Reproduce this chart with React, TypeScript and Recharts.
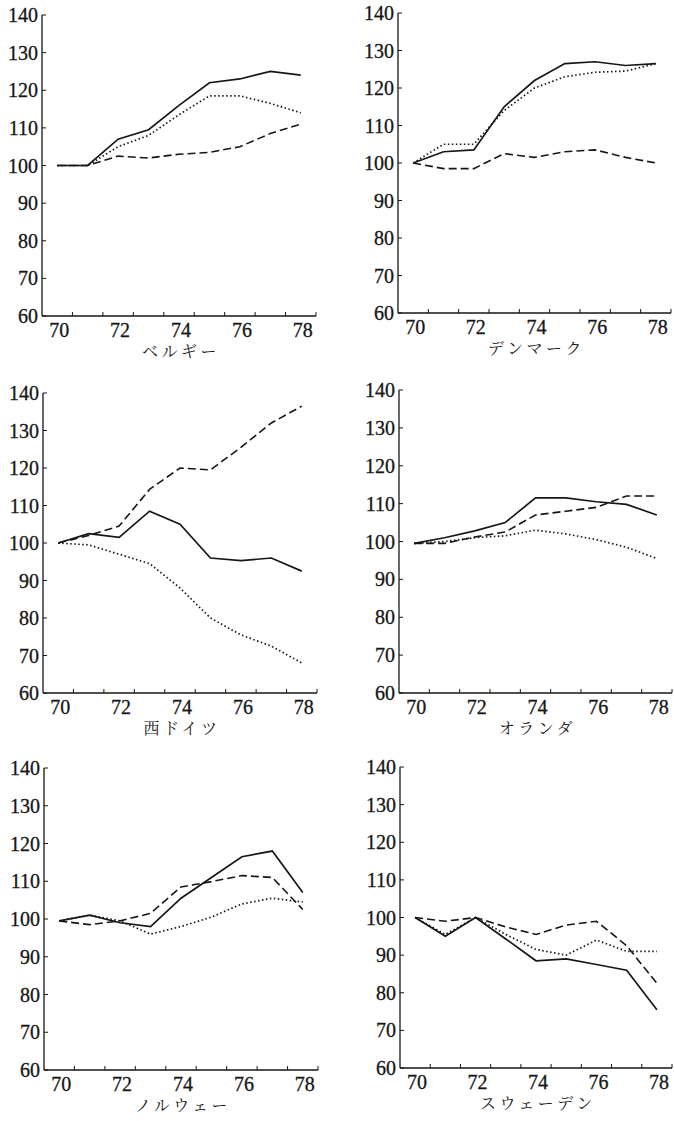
import React from "react";
import { LineChart, Line, XAxis, YAxis } from "recharts";

// 1970–1978, index 70 = 100
const years = [70, 71, 72, 73, 74, 75, 76, 77, 78];
const yearLabels = [70, 72, 74, 76, 78];
const yearMarks = [70.5, 71.5, 72.5, 73.5, 74.5, 75.5, 76.5, 77.5, 78.5];
const yTicks = [60, 70, 80, 90, 100, 110, 120, 130, 140];

const countryNames = ["ベルギー", "デンマーク", "西ドイツ", "オランダ", "ノルウェー", "スウェーデン"];

// solid / dashed / dotted lines per country
const belgiumSolid = [100, 100, 107, 109.5, 116, 122, 123, 125, 124];
const belgiumDashed = [100, 100, 102.5, 102, 103, 103.5, 105, 108.5, 111];
const belgiumDotted = [100, 100, 105, 108, 113.5, 118.5, 118.5, 116.5, 114];

const denmarkSolid = [100, 103, 103.5, 115, 122, 126.5, 127, 126, 126.5];
const denmarkDashed = [100, 98.5, 98.5, 102.5, 101.5, 103, 103.5, 101.5, 100];
const denmarkDotted = [100, 105, 105, 114, 120, 123, 124.2, 124.5, 126.5];

const germanySolid = [100, 102.5, 101.5, 108.5, 105, 96, 95.3, 96, 92.5];
const germanyDashed = [100, 102, 104.5, 114.3, 120, 119.5, 125.5, 132, 136.5];
const germanyDotted = [100, 99.5, 97, 94.5, 88, 80, 75.5, 72.5, 68];

const netherlandsSolid = [99.5, 101, 102.8, 105, 111.5, 111.5, 110.5, 109.8, 107];
const netherlandsDashed = [99.5, 99.5, 101.2, 102.5, 107, 108, 109, 112, 112];
const netherlandsDotted = [99.5, 100, 101, 101.5, 103, 102, 100.5, 98.5, 95.5];

const norwaySolid = [99.5, 101, 99, 98, 105.5, 111, 116.5, 118, 107];
const norwayDashed = [99.5, 98.5, 99.5, 101.5, 108.5, 109.9, 111.5, 111, 102.5];
const norwayDotted = [99.5, 101, 99.5, 96, 98, 100.5, 104, 105.5, 104.5];

const swedenSolid = [100, 95, 100, 94.3, 88.5, 89, 87.5, 86, 75.5];
const swedenDashed = [100, 99, 100, 97.5, 95.5, 98, 99, 92.5, 82.5];
const swedenDotted = [100, 95.5, 100, 95.5, 91.5, 90, 94, 91, 91];

const solidSeries = [belgiumSolid, denmarkSolid, germanySolid, netherlandsSolid, norwaySolid, swedenSolid];
const dashedSeries = [belgiumDashed, denmarkDashed, germanyDashed, netherlandsDashed, norwayDashed, swedenDashed];
const dottedSeries = [belgiumDotted, denmarkDotted, germanyDotted, netherlandsDotted, norwayDotted, swedenDotted];

// plot-area placement of each panel on the page
const panelLayout = [
  { left: 42, top: 15, w: 274, h: 301 },
  { left: 398, top: 13, w: 273, h: 300 },
  { left: 43, top: 393, w: 274, h: 300 },
  { left: 399, top: 390, w: 273, h: 303 },
  { left: 44, top: 768, w: 274, h: 302 },
  { left: 400, top: 767, w: 272, h: 301 },
];

const INK = "#161616";
const SERIF = "Liberation Serif";
const JP = "Noto Serif CJK JP";

function YTick(props: any) {
  const { x, y, payload } = props;
  return (
    <g>
      <line x1={x} x2={x + 4} y1={y} y2={y} stroke={INK} strokeWidth={1} />
      <text x={x - 4} y={y + 7} textAnchor="end" fontFamily={SERIF} fontSize={20} fill={INK} stroke={INK} strokeWidth={0.3}>
        {payload.value}
      </text>
    </g>
  );
}

function XTick(props: any) {
  const { x, y, payload } = props;
  if (yearLabels.includes(payload.value)) {
    return (
      <text x={x + 2} y={y + 21} textAnchor="middle" fontFamily={SERIF} fontSize={20} fill={INK} stroke={INK} strokeWidth={0.3}>
        {payload.value}
      </text>
    );
  }
  return <line x1={x} x2={x} y1={y} y2={y - 4} stroke={INK} strokeWidth={1} />;
}

function Panel({ idx }: { idx: number }) {
  const lay = panelLayout[idx];
  const data = years.map((yr, i) => ({
    year: yr,
    solid: solidSeries[idx][i],
    dashed: dashedSeries[idx][i],
    dotted: dottedSeries[idx][i],
  }));
  const name = countryNames[idx];
  return (
    <div style={{ position: "absolute", left: lay.left - 42, top: lay.top - 10 }}>
      <LineChart width={42 + lay.w + 10} height={10 + lay.h + 50} data={data} margin={{ top: 10, right: 10, left: 0, bottom: 0 }}>
        <XAxis
          dataKey="year"
          type="number"
          domain={[69.5, 78.5]}
          ticks={[...yearLabels, ...yearMarks]}
          interval={0}
          height={50}
          tickSize={0}
          tickMargin={0}
          tickLine={false}
          axisLine={{ stroke: INK, strokeWidth: 1.3 }}
          tick={<XTick />}
          allowDataOverflow
          label={{
            content: (p: any) => {
              const vb = p.viewBox;
              return (
                <text
                  x={vb.x + vb.width / 2 + 2}
                  y={vb.y + 41}
                  textAnchor="middle"
                  fontFamily={JP}
                  fontSize={16}
                  letterSpacing={3.5}
                  fill={INK}
                >
                  {name}
                </text>
              );
            },
          }}
        />
        <YAxis
          type="number"
          domain={[60, 140]}
          ticks={yTicks}
          interval={0}
          width={42}
          tickSize={0}
          tickMargin={0}
          tickLine={false}
          axisLine={{ stroke: INK, strokeWidth: 1.3 }}
          tick={<YTick />}
          allowDataOverflow
        />
        <Line dataKey="dotted" stroke={INK} strokeWidth={1.7} strokeDasharray="1.5 2.5" dot={false} isAnimationActive={false} />
        <Line dataKey="dashed" stroke={INK} strokeWidth={1.6} strokeDasharray="8 4" dot={false} isAnimationActive={false} />
        <Line dataKey="solid" stroke={INK} strokeWidth={1.7} dot={false} isAnimationActive={false} />
      </LineChart>
    </div>
  );
}

export default function App() {
  return (
    <div style={{ position: "absolute", left: 0, top: 0, width: 674, height: 1121, background: "#fff" }}>
      {countryNames.map((_, i) => (
        <Panel key={i} idx={i} />
      ))}
    </div>
  );
}
